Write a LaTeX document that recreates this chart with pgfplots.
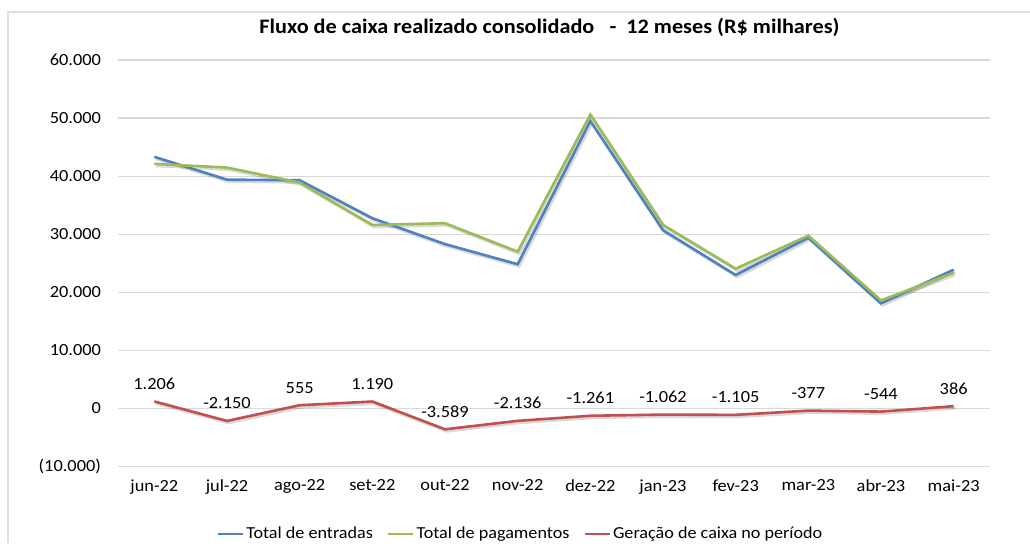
\documentclass[border=0pt]{standalone}
\usepackage{pgfplots}
\pgfplotsset{compat=1.18}
\usepackage{pgfplotstable}
\usepackage{fontspec}
\setmainfont{Carlito}[FakeStretch=1.08]
\definecolor{cblue}{HTML}{4F81BD}
\definecolor{cgreen}{HTML}{9BBB59}
\definecolor{cred}{HTML}{C0504D}
\definecolor{cgrid}{HTML}{D9D9D9}

\pgfplotstableread{
x entradas pagamentos geracao label
0 43330 42120 1206 1.206
1 39400 41480 -2150 -2.150
2 39300 38900 555 555
3 32760 31600 1190 1.190
4 28300 31900 -3589 -3.589
5 24830 27000 -2136 -2.136
6 49500 50600 -1261 -1.261
7 30700 31600 -1062 -1.062
8 22980 24070 -1105 -1.105
9 29400 29750 -377 -377
10 18100 18600 -544 -544
11 23900 23380 386 386
}\datatable

\begin{document}
\begin{tikzpicture}
\useasboundingbox (0,0) rectangle (515pt,-271.5pt);
\draw[gray!25, line width=0.6pt] (4pt,-271.5pt) -- (4pt,-6pt) -- (515pt,-6pt);
\begin{axis}[
  at={(59pt,-233.25pt)}, anchor=south west,
  scale only axis, width=436pt, height=203.25pt,
  xmin=-0.5, xmax=11.5, ymin=-10000, ymax=60000,
  scaled y ticks=false,
  axis line style={draw=none},
  major tick length=0pt,
  xtick={0,...,11},
  xticklabels={jun-22,jul-22,ago-22,set-22,out-22,nov-22,dez-22,jan-23,fev-23,mar-23,abr-23,mai-23},
  ytick={-10000,0,10000,20000,30000,40000,50000,60000},
  yticklabels={(10.000),0,10.000,20.000,30.000,40.000,50.000,60.000},
  ymajorgrids, grid style={cgrid, line width=0.6pt},
  tick label style={font=\fontsize{8.5}{10}\selectfont},
  yticklabel style={xshift=-5pt},
  xticklabel style={yshift=-3pt},
  /pgf/number format/assume math mode=true,
  legend columns=3,
  legend style={at={(0.4616,-0.166)}, anchor=center, draw=none, fill=none,
    font=\fontsize{8.4}{10}\selectfont, inner sep=0pt,
    /tikz/every even column/.append style={column sep=6pt},
    nodes={inner sep=1pt}},
  legend image code/.code={\draw[#1] (0pt,0pt) -- (12.5pt,0pt);},
  clip=false,
]
% shadows
\addplot[black, opacity=0.15, line width=1.4pt, forget plot, transform canvas={xshift=0.8pt,yshift=-1pt}] table[x=x,y=entradas]{\datatable};
\addplot[black, opacity=0.15, line width=1.4pt, forget plot, transform canvas={xshift=0.8pt,yshift=-1pt}] table[x=x,y=pagamentos]{\datatable};
\addplot[black, opacity=0.15, line width=1.4pt, forget plot, transform canvas={xshift=0.8pt,yshift=-1pt}] table[x=x,y=geracao]{\datatable};
\addplot[cblue, line width=1.3pt] table[x=x,y=entradas]{\datatable};
\addlegendentry{Total de entradas}
\addplot[cgreen, line width=1.3pt] table[x=x,y=pagamentos]{\datatable};
\addlegendentry{Total de pagamentos}
\addplot[cred, line width=1.3pt,
  nodes near coords, point meta=explicit symbolic,
  nodes near coords style={font=\fontsize{8.5}{10}\selectfont, anchor=south, yshift=2pt, text=black}]
  table[x=x,y=geracao,meta=label]{\datatable};
\addlegendentry{Geração de caixa no período}
\node[font=\bfseries\fontsize{10.3}{12}\selectfont] at (axis description cs:0.4948,1.081) {Fluxo de caixa realizado consolidado\ \ \ -\ \ 12 meses (R\$ milhares)};
\end{axis}
\end{tikzpicture}
\end{document}
